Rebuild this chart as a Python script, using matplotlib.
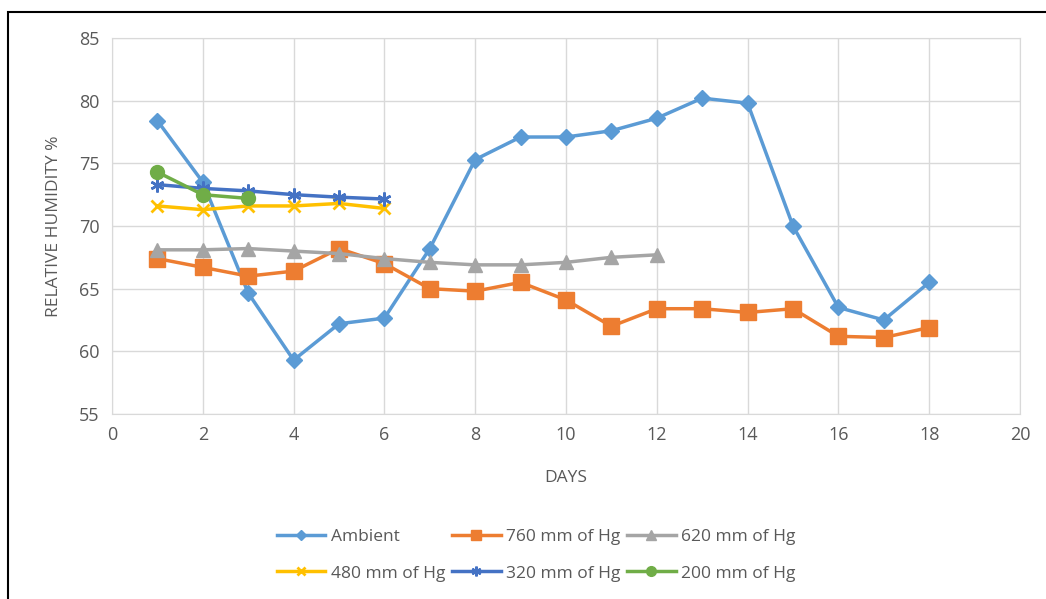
from matplotlib import pyplot as plt
from matplotlib.lines import Line2D

plt.rcParams['font.family'] = ['Open Sans', 'DejaVu Sans']

days_ambient = list(range(1, 19))
ambient = [78.4, 73.5, 64.65, 59.3, 62.2, 62.65, 68.2, 75.3, 77.1, 77.1, 77.6, 78.6, 80.2, 79.8, 70.0, 63.5, 62.5, 65.5]

days_760 = list(range(1, 19))
hg_760 = [67.4, 66.7, 66.0, 66.4, 68.2, 67.0, 65.0, 64.8, 65.5, 64.1, 62.0, 63.4, 63.4, 63.1, 63.4, 61.2, 61.1, 61.9]

days_620 = list(range(1, 13))
hg_620 = [68.1, 68.1, 68.2, 68.0, 67.8, 67.4, 67.1, 66.9, 66.9, 67.1, 67.5, 67.7]

days_480 = list(range(1, 7))
hg_480 = [71.6, 71.3, 71.6, 71.6, 71.8, 71.4]

days_320 = list(range(1, 7))
hg_320 = [73.3, 73.0, 72.8, 72.5, 72.3, 72.15]

days_200 = list(range(1, 4))
hg_200 = [74.3, 72.5, 72.2]

text_color = '#595959'
grid_color = '#d9d9d9'

fig = plt.figure(figsize=(10.46, 5.99), dpi=100)
ax = fig.add_axes([112 / 1046, 1 - 414 / 599, (1020 - 112) / 1046, (414 - 38) / 599])

ax.plot(days_ambient, ambient, '-', color='#5B9BD5', lw=2.5, marker='D', ms=8, label='Ambient')
ax.plot(days_760, hg_760, '-', color='#ED7D31', lw=2.5, marker='s', ms=11, label='760 mm of Hg')
ax.plot(days_620, hg_620, '-', color='#A5A5A5', lw=2.5, marker='^', ms=10, label='620 mm of Hg')
ax.plot(days_480, hg_480, '-', color='#FFC000', lw=2.5, marker='x', ms=9, mew=2, label='480 mm of Hg')
ax.plot(days_320, hg_320, '-', color='#4472C4', lw=2.5, marker=(6, 2, 0), ms=10, mew=1.8, label='320 mm of Hg')
ax.plot(days_200, hg_200, '-', color='#70AD47', lw=2.5, marker='o', ms=10, label='200 mm of Hg')

ax.set_xlim(0, 20)
ax.set_ylim(55, 85)
ax.set_xticks(range(0, 21, 2))
ax.set_yticks(range(55, 86, 5))
ax.grid(True, color=grid_color, lw=1)
ax.set_axisbelow(True)
for s in ax.spines.values():
    s.set_color(grid_color)
ax.tick_params(length=0, labelsize=13, colors=text_color, pad=9)
ax.set_xlabel('DAYS', fontsize=12.5, color=text_color, labelpad=18)
ax.set_ylabel('RELATIVE HUMIDITY %', fontsize=12.5, color=text_color, labelpad=12)

handles, labels = ax.get_legend_handles_labels()
order = [0, 3, 1, 4, 2, 5]
small = []
for h in handles:
    small.append(Line2D([], [], color=h.get_color(), lw=2.5, marker=h.get_marker(),
                        ms=h.get_markersize() * 0.7, mew=h.get_markeredgewidth()))
fig.legend([small[i] for i in order], [labels[i] for i in order], ncol=3, loc='center',
           bbox_to_anchor=(536 / 1046, 1 - 555 / 599), frameon=False, fontsize=12.5,
           labelcolor=text_color, handlelength=2.8, columnspacing=0.4, handletextpad=0.3,
           labelspacing=1.2)

fig.patches.append(plt.Rectangle((8 / 1046, -0.1), 1.2, 1 - 12 / 599 + 0.1, transform=fig.transFigure,
                                 fill=False, edgecolor='black', lw=1.5))

fig.savefig('out.png', dpi=100)
